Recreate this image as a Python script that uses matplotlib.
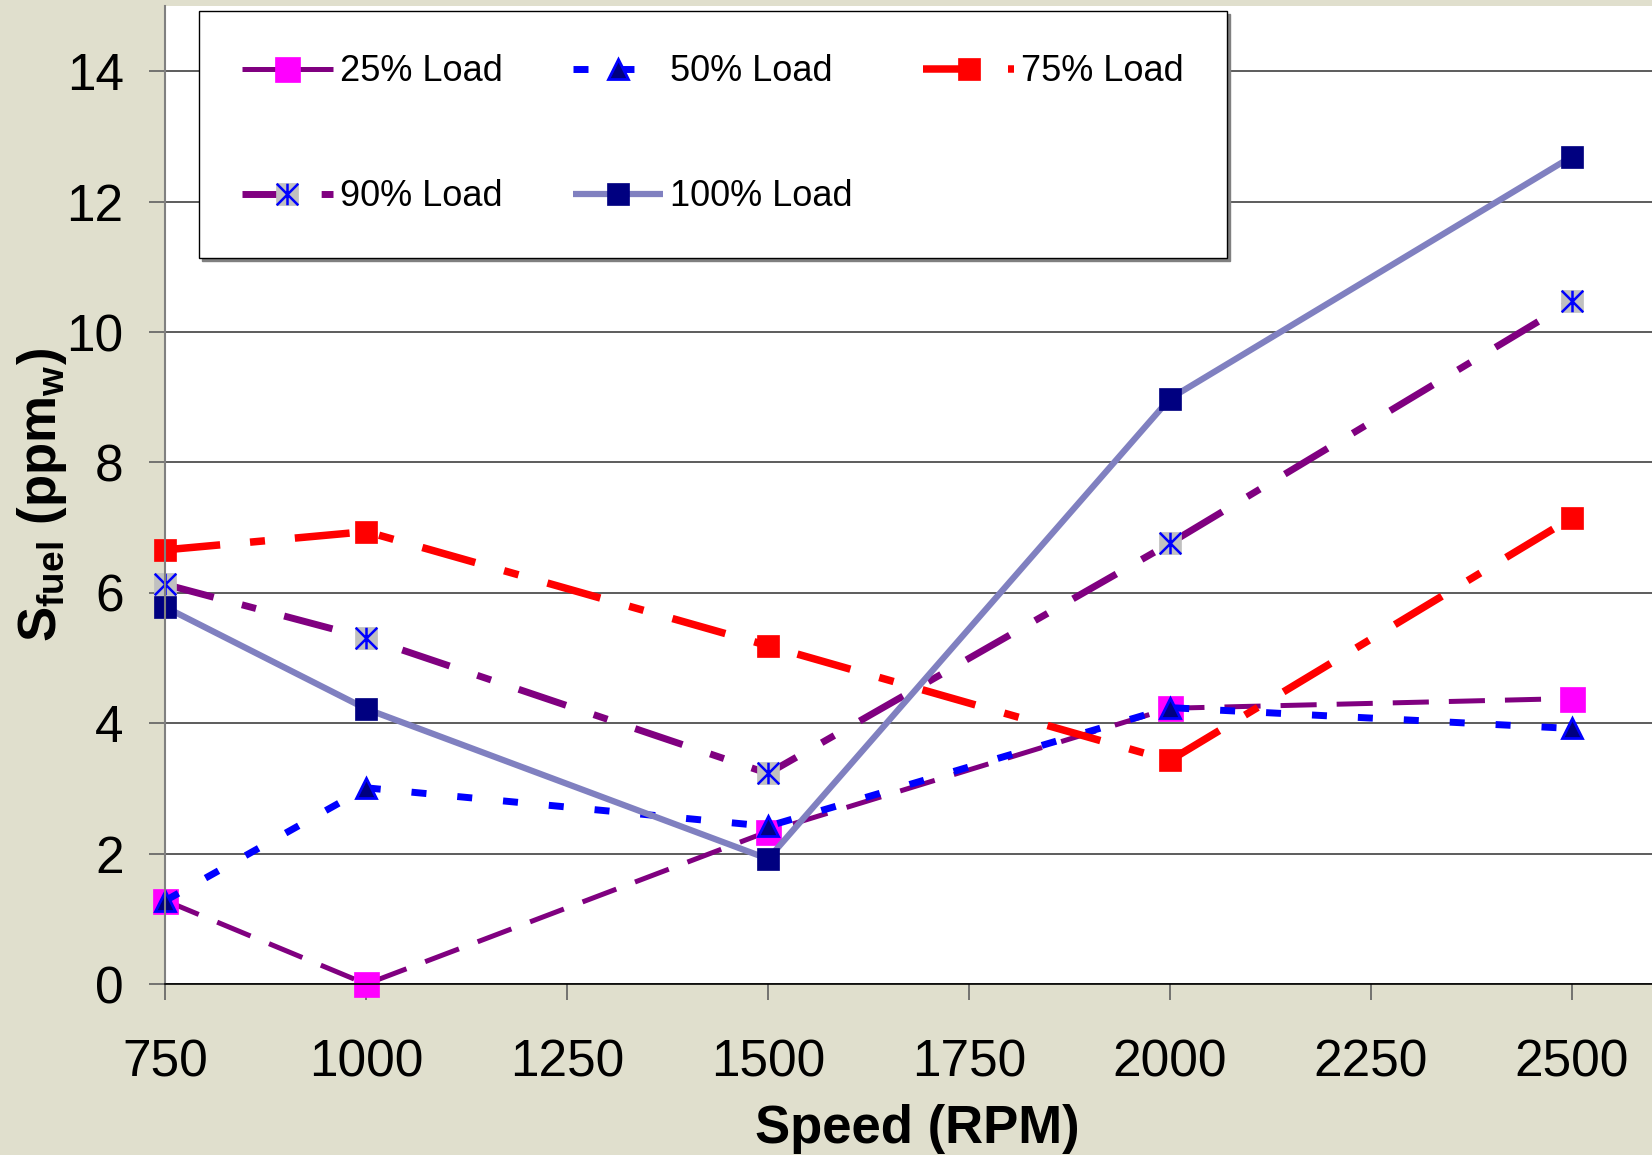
import numpy as np
import matplotlib
matplotlib.use('Agg')
import matplotlib.pyplot as plt
from matplotlib.path import Path
from matplotlib.legend_handler import HandlerTuple

plt.rcParams['font.family'] = ['Liberation Sans', 'DejaVu Sans']
plt.rcParams['mathtext.fontset'] = 'custom'
plt.rcParams['mathtext.rm'] = 'Liberation Sans'
plt.rcParams['mathtext.bf'] = 'Liberation Sans:bold'
plt.rcParams['lines.scale_dashes'] = False

# data
speed = [750, 1000, 1500, 2000, 2500]
load25 = [1.28, 0.0, 2.34, 4.23, 4.38]
load50 = [1.28, 3.01, 2.42, 4.24, 3.92]
load75 = [6.66, 6.94, 5.19, 3.43, 7.15]
load90 = [6.13, 5.31, 3.23, 6.76, 10.47]
load100 = [5.78, 4.22, 1.92, 8.98, 12.69]
labels = ['25% Load', '50% Load', '75% Load', '90% Load', '100% Load']

xticks = [750, 1000, 1250, 1500, 1750, 2000, 2250, 2500]
yticks = [0, 2, 4, 6, 8, 10, 12, 14]

bg = '#E0DFCD'
fig = plt.figure(figsize=(16.52, 11.55), dpi=100, facecolor=bg)
ax = fig.add_axes([0.1001, 0.148, 0.8999, 0.8467])
ax.set_facecolor('white')

# asterisk marker: X with a vertical bar
ast = Path([(-1, -1), (1, 1), (-1, 1), (1, -1), (0, -1), (0, 1)],
           [Path.MOVETO, Path.LINETO, Path.MOVETO, Path.LINETO, Path.MOVETO, Path.LINETO])

kw = dict(clip_on=False)
l25, = ax.plot(speed, load25, color='#800080', lw=3.6, dashes=(26, 14.4),
               marker='s', ms=18, mfc='#FF00FF', mec='#FF00FF', mew=0.5, **kw)
l50, = ax.plot(speed, load50, color='#0000FF', lw=5, dashes=(10.8, 22.3),
               marker='^', ms=14.5, mfc='#000080', mec='#0000FF', mew=2, **kw)
l75, = ax.plot(speed, load75, color='#FF0000', lw=5.4, dashes=(39.6, 21.6, 10.8, 21.6),
               marker='s', ms=15.5, mfc='#FF0000', mec='#FF0000', mew=0.5, **kw)
l90, = ax.plot(speed, load90, color='#800080', lw=5, dashes=(36, 21, 10.5, 21),
               marker='s', ms=15.5, mfc='#C0C0C0', mec='#C0C0C0', mew=0.5, **kw)
a90, = ax.plot(speed, load90, ls='none', marker=ast, ms=15.5, mec='#0000FF',
               mfc='none', mew=1.8, **kw)
l100, = ax.plot(speed, load100, color='#8080C0', lw=4.5, solid_capstyle='butt',
                marker='s', ms=15.5, mfc='#000080', mec='#000080', mew=0.5, **kw)

ax.set_xlim(750, 2600)
ax.set_ylim(0, 15)
ax.set_xticks(xticks)
ax.set_yticks(yticks)
ax.grid(axis='y', color='#303030', lw=1.1)
ax.set_axisbelow(True)

for s in ['top', 'right']:
    ax.spines[s].set_visible(False)
ax.spines['left'].set_color('#808080')
ax.spines['left'].set_linewidth(1.5)
ax.spines['bottom'].set_color('black')
ax.spines['bottom'].set_linewidth(1.2)

ax.tick_params(axis='both', direction='out', length=11.5, width=1.2,
               color='#606060', labelsize=37)
ax.tick_params(axis='x', pad=27.5)
ax.tick_params(axis='y', pad=18.5)

ax.set_xlabel('Speed (RPM)', fontsize=38, fontweight='bold')
ax.xaxis.set_label_coords(0.506, -0.123)
ax.set_ylabel(r'S$_{\mathbf{fuel}}$ (ppm$_{\mathbf{w}}$)', fontsize=38, fontweight='bold')
ax.yaxis.set_label_coords(-0.065, 0.5)

handles = [l25, (l90, a90), l50, l100, l75]
names = [labels[0], labels[3], labels[1], labels[4], labels[2]]
leg = ax.legend(handles, names, ncol=3, loc='upper left',
                bbox_to_anchor=(0.0226, 0.9952), borderaxespad=0,
                fontsize=26, handlelength=2.5, handletextpad=0.2,
                columnspacing=1.95, labelspacing=2.5, borderpad=1.2,
                fancybox=False, framealpha=1, edgecolor='black',
                shadow={'ox': 2, 'oy': -2, 'color': '#808080', 'alpha': 1},
                handler_map={tuple: HandlerTuple(ndivide=1)})
leg.get_frame().set_linewidth(1.0)

plt.savefig('out.png', dpi=100, facecolor=bg)
